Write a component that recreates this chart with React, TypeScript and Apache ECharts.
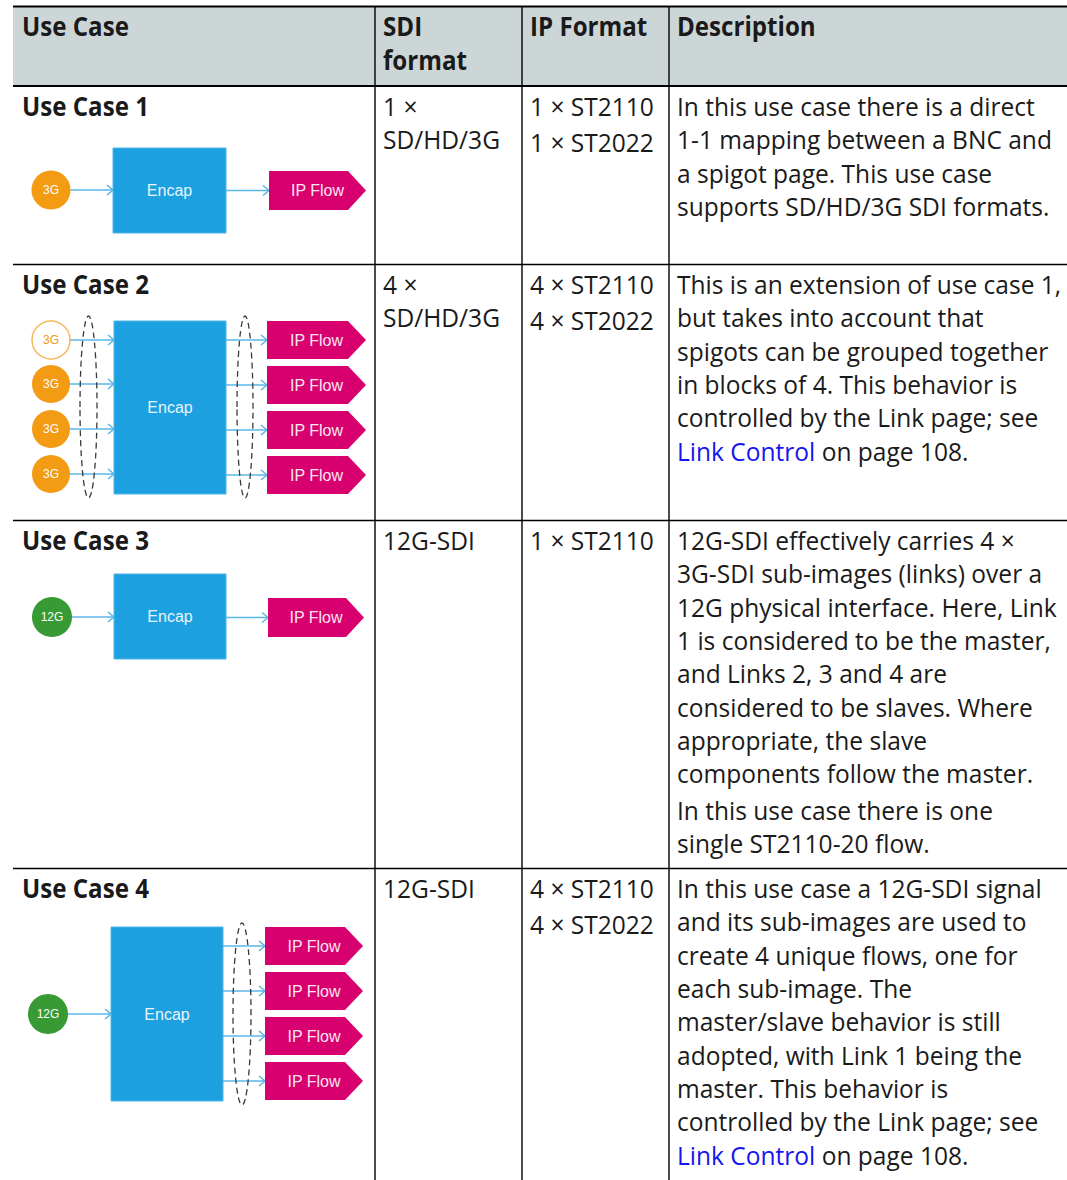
import React, { useEffect, useRef } from "react";
import * as echarts from "echarts";

// ---------- content ----------
const headerLabels: string[][] = [["Use Case"], ["SDI", "format"], ["IP Format"], ["Description"]];
const useCaseNames = ["Use Case 1", "Use Case 2", "Use Case 3", "Use Case 4"];
const sdiFormats: string[][] = [["1 ×", "SD/HD/3G"], ["4 ×", "SD/HD/3G"], ["12G-SDI"], ["12G-SDI"]];
const ipFormats: string[][] = [
  ["1 × ST2110", "1 × ST2022"],
  ["4 × ST2110", "4 × ST2022"],
  ["1 × ST2110"],
  ["4 × ST2110", "4 × ST2022"],
];
const descriptions: string[][] = [
  [
    "In this use case there is a direct",
    "1-1 mapping between a BNC and",
    "a spigot page. This use case",
    "supports SD/HD/3G SDI formats.",
  ],
  [
    "This is an extension of use case 1,",
    "but takes into account that",
    "spigots can be grouped together",
    "in blocks of 4. This behavior is",
    "controlled by the Link page; see",
    "[Link Control] on page 108.",
  ],
  [
    "12G-SDI effectively carries 4 ×",
    "3G-SDI sub-images (links) over a",
    "12G physical interface. Here, Link",
    "1 is considered to be the master,",
    "and Links 2, 3 and 4 are",
    "considered to be slaves. Where",
    "appropriate, the slave",
    "components follow the master.",
    "In this use case there is one",
    "single ST2110-20 flow.",
  ],
  [
    "In this use case a 12G-SDI signal",
    "and its sub-images are used to",
    "create 4 unique flows, one for",
    "each sub-image. The",
    "master/slave behavior is still",
    "adopted, with Link 1 being the",
    "master. This behavior is",
    "controlled by the Link page; see",
    "[Link Control] on page 108.",
  ],
];
const inputSignals: string[][] = [["3G"], ["3G", "3G", "3G", "3G"], ["12G"], ["12G"]];
const hollowInputs: boolean[][] = [[false], [true, false, false, false], [false], [false]];
const outputFlows: string[][] = [
  ["IP Flow"],
  ["IP Flow", "IP Flow", "IP Flow", "IP Flow"],
  ["IP Flow"],
  ["IP Flow", "IP Flow", "IP Flow", "IP Flow"],
];
const encapLabel = "Encap";
const paragraphStarts: number[][] = [[], [], [8], []];

// ---------- layout ----------
const W = 1067;
const H = 1180;
const TABLE_LEFT = 13;
const TEXT_X = [22, 383, 530, 677];
const COL_LINES = [375, 522, 669];
const HEADER_TOP = 6;
const HEADER_BOTTOM = 86;
const ROW_TOPS = [86, 264, 520, 868];
const FIRST_BASE = 30;
const LINE_H = 33.3;
const PARA_GAP = 3;
const FONT = '"Open Sans"';
const FS = 26;
const CENTRAL = 0.388 * FS;

const C_TEXT = "#1a1a1a";
const C_LINK = "#1414f0";
const C_HEADER = "#cdd6d6";
const C_ORANGE = "#f29b13";
const C_ORANGE_LIGHT = "#f5b95e";
const C_GREEN = "#379a35";
const C_BLUE = "#1da0e0";
const C_MAGENTA = "#d8006e";
const C_ARROW = "#5ab6e7";
const DIAG_FONT = '"Liberation Sans", Arial, sans-serif';

const diagrams = [
  { inX: 51, inYs: [190], r: 19.5, color: C_ORANGE, encap: { x: 113, y: 148, w: 113, h: 85 }, outX: 269, outW: 97, outH: 39, outYs: [190.5], ellipses: [] as any[] },
  {
    inX: 51, inYs: [340, 384, 429, 474], r: 19, color: C_ORANGE,
    encap: { x: 114, y: 321, w: 112, h: 173 }, outX: 267, outW: 99, outH: 38, outYs: [340, 385, 430, 475],
    ellipses: [{ cx: 88.5, cy: 407, rx: 8.5, ry: 91 }, { cx: 245, cy: 407, rx: 8, ry: 91 }],
  },
  { inX: 52, inYs: [617], r: 20, color: C_GREEN, encap: { x: 114, y: 574, w: 112, h: 85 }, outX: 268, outW: 96, outH: 39, outYs: [617.5], ellipses: [] as any[] },
  {
    inX: 48, inYs: [1014], r: 20, color: C_GREEN,
    encap: { x: 111, y: 927, w: 112, h: 174 }, outX: 265, outW: 98, outH: 38, outYs: [946, 991, 1036, 1081],
    ellipses: [{ cx: 242, cy: 1014, rx: 9, ry: 91 }],
  },
];

function measure(text: string, bold: boolean): number {
  const c = document.createElement("canvas").getContext("2d")!;
  c.font = `${bold ? "bold " : ""}${FS}px ${FONT}`;
  return c.measureText(text).width;
}

export default function App() {
  const ref = useRef<HTMLDivElement>(null);
  useEffect(() => {
    const chart = echarts.init(ref.current!, null, { renderer: "svg" });
    const sReg = 358 / measure("In this use case there is a direct", false);
    const sBold = 107 / measure("Use Case", true);
    const els: any[] = [];

    const txt = (x: number, base: number, s: string, bold: boolean, color = C_TEXT) => {
      els.push({
        type: "text", x, y: base - CENTRAL, scaleX: bold ? sBold : sReg, silent: true,
        style: { x: 0, y: 0, text: s, fill: color, fontSize: FS, fontFamily: FONT, fontWeight: bold ? "bold" : "normal", align: "left", verticalAlign: "middle" },
      });
    };
    const line = (x1: number, y1: number, x2: number, y2: number, lw: number, color = "#000") =>
      els.push({ type: "line", silent: true, shape: { x1, y1, x2, y2 }, style: { stroke: color, lineWidth: lw } });

    // header background
    els.push({ type: "rect", silent: true, shape: { x: TABLE_LEFT, y: HEADER_TOP, width: W - TABLE_LEFT, height: HEADER_BOTTOM - HEADER_TOP }, style: { fill: C_HEADER } });

    // header text
    headerLabels.forEach((lines, ci) => {
      lines.forEach((l, li) => txt(TEXT_X[ci], HEADER_TOP + FIRST_BASE + li * LINE_H, l, true));
    });

    // rows
    useCaseNames.forEach((name, ri) => {
      const top = ROW_TOPS[ri];
      const b0 = top + FIRST_BASE;
      txt(TEXT_X[0], b0, name, true);
      sdiFormats[ri].forEach((l, li) => txt(TEXT_X[1], b0 + li * LINE_H, l, false));
      ipFormats[ri].forEach((l, li) => txt(TEXT_X[2], b0 + li * (LINE_H + PARA_GAP), l, false));
      let extra = 0;
      descriptions[ri].forEach((l, li) => {
        if (paragraphStarts[ri].includes(li)) extra += PARA_GAP;
        const base = b0 + li * LINE_H + extra;
        const m = l.match(/^\[(.+?)\](.*)$/);
        if (m) {
          txt(TEXT_X[3], base, m[1], false, C_LINK);
          txt(TEXT_X[3] + measure(m[1], false) * sReg, base, m[2], false);
        } else {
          txt(TEXT_X[3], base, l, false);
        }
      });

      // diagram
      const d = diagrams[ri];
      const arrow = (x1: number, x2: number, y: number) => {
        line(x1, y, x2, y, 1.5, C_ARROW);
        els.push({ type: "polyline", silent: true, shape: { points: [[x2 - 6, y - 5], [x2, y], [x2 - 6, y + 5]] }, style: { stroke: C_ARROW, lineWidth: 1.5, fill: "none" } });
      };
      inputSignals[ri].forEach((sig, i) => {
        const cy = d.inYs[i];
        const hollow = hollowInputs[ri][i];
        arrow(d.inX + d.r, d.encap.x, cy);
        els.push({ type: "circle", silent: true, shape: { cx: d.inX, cy, r: d.r }, style: hollow ? { fill: "#fff", stroke: C_ORANGE_LIGHT, lineWidth: 1.5 } : { fill: d.color } });
        els.push({ type: "text", silent: true, x: d.inX, y: cy, style: { text: sig, fill: hollow ? C_ORANGE : "#fff", fontSize: 12, fontFamily: DIAG_FONT, align: "center", verticalAlign: "middle" } });
      });
      const e = d.encap;
      els.push({ type: "rect", silent: true, shape: { x: e.x, y: e.y, width: e.w, height: e.h }, style: { fill: C_BLUE, stroke: "#4fb5e6", lineWidth: 1 } });
      els.push({ type: "text", silent: true, x: e.x + e.w / 2, y: e.y + e.h / 2, style: { text: encapLabel, fill: "#e8f4fb", fontSize: 16, fontFamily: DIAG_FONT, align: "center", verticalAlign: "middle" } });
      outputFlows[ri].forEach((f, i) => {
        const cy = d.outYs[i];
        arrow(e.x + e.w, d.outX, cy);
        const x = d.outX, y = cy - d.outH / 2, w = d.outW, h = d.outH, tip = 18;
        els.push({ type: "polygon", silent: true, shape: { points: [[x, y], [x + w - tip, y], [x + w, y + h / 2], [x + w - tip, y + h], [x, y + h]] }, style: { fill: C_MAGENTA } });
        els.push({ type: "text", silent: true, x: x + w / 2, y: cy, style: { text: f, fill: "#fbe6f0", fontSize: 16, fontFamily: DIAG_FONT, align: "center", verticalAlign: "middle" } });
      });
      d.ellipses.forEach((el: any) => {
        els.push({ type: "ellipse", silent: true, shape: el, style: { fill: "none", stroke: "#3a3a3a", lineWidth: 1.3, lineDash: [6, 4] } });
      });
    });

    // table lines
    line(TABLE_LEFT, HEADER_TOP + 0.5, W, HEADER_TOP + 0.5, 2.2);
    line(TABLE_LEFT, HEADER_BOTTOM, W, HEADER_BOTTOM, 2);
    ROW_TOPS.slice(1).forEach((y) => line(TABLE_LEFT, y + 0.5, W, y + 0.5, 1.4));
    COL_LINES.forEach((x) => line(x, HEADER_TOP, x, H, 1.4));

    chart.setOption({
      animation: false,
      backgroundColor: "#ffffff",
      graphic: { elements: els },
    });
    return () => chart.dispose();
  }, []);
  return <div ref={ref} style={{ position: "absolute", left: 0, top: 0, width: W, height: H, background: "#fff" }} />;
}
